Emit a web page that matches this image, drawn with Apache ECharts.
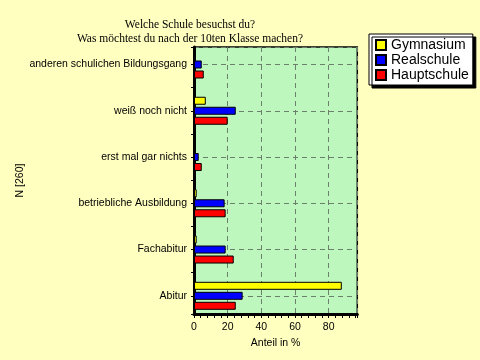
<!DOCTYPE html>
<html>
<head>
<meta charset="utf-8">
<script src="https://cdn.jsdelivr.net/npm/echarts@6/dist/echarts.min.js"></script>
<style>
html,body{margin:0;padding:0;background:#FFFFC0;}
#c{width:480px;height:360px;}
</style>
</head>
<body>
<div id="c"></div>
<script>
// Categories listed bottom to top
var categories = ['Abitur', 'Fachabitur', 'betriebliche Ausbildung', 'erst mal gar nichts', 'weiß noch nicht', 'anderen schulichen Bildungsgang'];
var seriesNames = ['Gymnasium', 'Realschule', 'Hauptschule'];
var gymnasium   = [87.8, 1.6, 1.6, 0.5, 7.0, 0];
var realschule  = [28.9, 18.8, 18.2, 2.8, 24.8, 4.6];
var hauptschule = [24.8, 23.6, 18.8, 4.6, 20.0, 5.8];
var xTicks = [0, 20, 40, 60, 80];
var titleText = 'Welche Schule besuchst du?\nWas möchtest du nach der 10ten Klasse machen?';
var xName = 'Anteil in %';
var yName = 'N [260]';

var colors = ['#FFFF00', '#0000FF', '#FF0000'];
var values = [gymnasium, realschule, hauptschule];

var X_MAX = 97;
var plotLeft = 194, plotWidth = 163.3;
var frameTop = 47, frameBottom = 314;
var centerFirst = 295.8, step = 46.26;
var yMin = -(frameBottom - centerFirst) / step;
var yMax = (centerFirst - frameTop) / step;
var gridBTop = centerFirst + step / 2 - categories.length * step;

var chart = echarts.init(document.getElementById('c'), null, {renderer: 'canvas'});

var series = seriesNames.map(function (name, i) {
  return {
    name: name,
    type: 'bar',
    xAxisIndex: 1,
    yAxisIndex: 1,
    data: values[i],
    barWidth: 8,
    barGap: '25%',
    itemStyle: {color: colors[i], borderColor: '#000', borderWidth: 1},
    z: 3
  };
});

var lbl = {fontFamily: 'Liberation Sans', fontSize: 10.5, color: '#000'};

chart.setOption({
  backgroundColor: '#FFFFC0',
  animation: false,
  title: {
    text: titleText,
    left: 185,
    top: 13,
    textAlign: 'center',
    textStyle: {fontFamily: 'Liberation Serif', fontSize: 11.5, fontWeight: 'normal', color: '#000', lineHeight: 14}
  },
  legend: {
    data: seriesNames,
    orient: 'vertical',
    left: 369,
    top: 34,
    padding: [4, 4, 3, 6],
    itemGap: 1,
    itemWidth: 10,
    itemHeight: 10,
    icon: 'rect',
    backgroundColor: '#fff',
    borderColor: '#000',
    borderWidth: 1,
    shadowColor: '#000',
    shadowBlur: 0,
    shadowOffsetX: 3,
    shadowOffsetY: 3,
    textStyle: {fontFamily: 'Liberation Sans', fontSize: 14, color: '#000', lineHeight: 14, padding: [0, 0, 0, 0]}
  },
  grid: [
    {left: plotLeft, width: plotWidth, top: frameTop, height: frameBottom - frameTop,
     show: true, backgroundColor: '#BDF7BD', borderColor: '#000', borderWidth: 1.5, containLabel: false},
    {left: plotLeft, width: plotWidth, top: gridBTop, height: categories.length * step,
     show: false, containLabel: false}
  ],
  xAxis: [
    {
      gridIndex: 0, type: 'value', min: 0, max: X_MAX, interval: 20,
      name: xName, nameLocation: 'middle', nameGap: 20,
      nameTextStyle: lbl,
      axisLine: {show: true, onZero: false, lineStyle: {color: '#000', width: 3}},
      axisTick: {show: true, inside: false, length: 4, lineStyle: {color: '#000', width: 1}},
      minorTick: {show: true, splitNumber: 5, length: 4, lineStyle: {color: '#000', width: 1}},
      axisLabel: Object.assign({margin: 8, showMaxLabel: false, formatter: function (v) { return xTicks.indexOf(v) >= 0 ? String(v) : ''; }}, lbl),
      splitLine: {show: true, lineStyle: {color: '#6B806B', type: [5, 4], width: 1}}
    },
    {
      gridIndex: 1, type: 'value', min: 0, max: X_MAX, show: false,
      splitLine: {show: false}
    }
  ],
  yAxis: [
    {
      gridIndex: 0, type: 'value', min: yMin, max: yMax, splitNumber: 6,
      name: yName, nameLocation: 'middle', nameGap: 162, nameRotate: 90,
      nameTextStyle: lbl,
      axisLine: {show: true, onZero: false, lineStyle: {color: '#000', width: 3}},
      axisTick: {show: true, inside: false, length: 3, lineStyle: {color: '#000', width: 1}},
      minorTick: {show: true, splitNumber: 2, length: 3, lineStyle: {color: '#000', width: 1}},
      axisLabel: Object.assign({margin: 7, formatter: function (v) {
        var r = Math.round(v);
        return Math.abs(v - r) < 1e-6 && categories[r] !== undefined ? categories[r] : '';
      }}, lbl),
      splitLine: {show: true, lineStyle: {color: '#6B806B', type: [5, 4], width: 1}}
    },
    {
      gridIndex: 1, type: 'category', data: categories, show: false
    }
  ],
  series: series
});
</script>
</body>
</html>
